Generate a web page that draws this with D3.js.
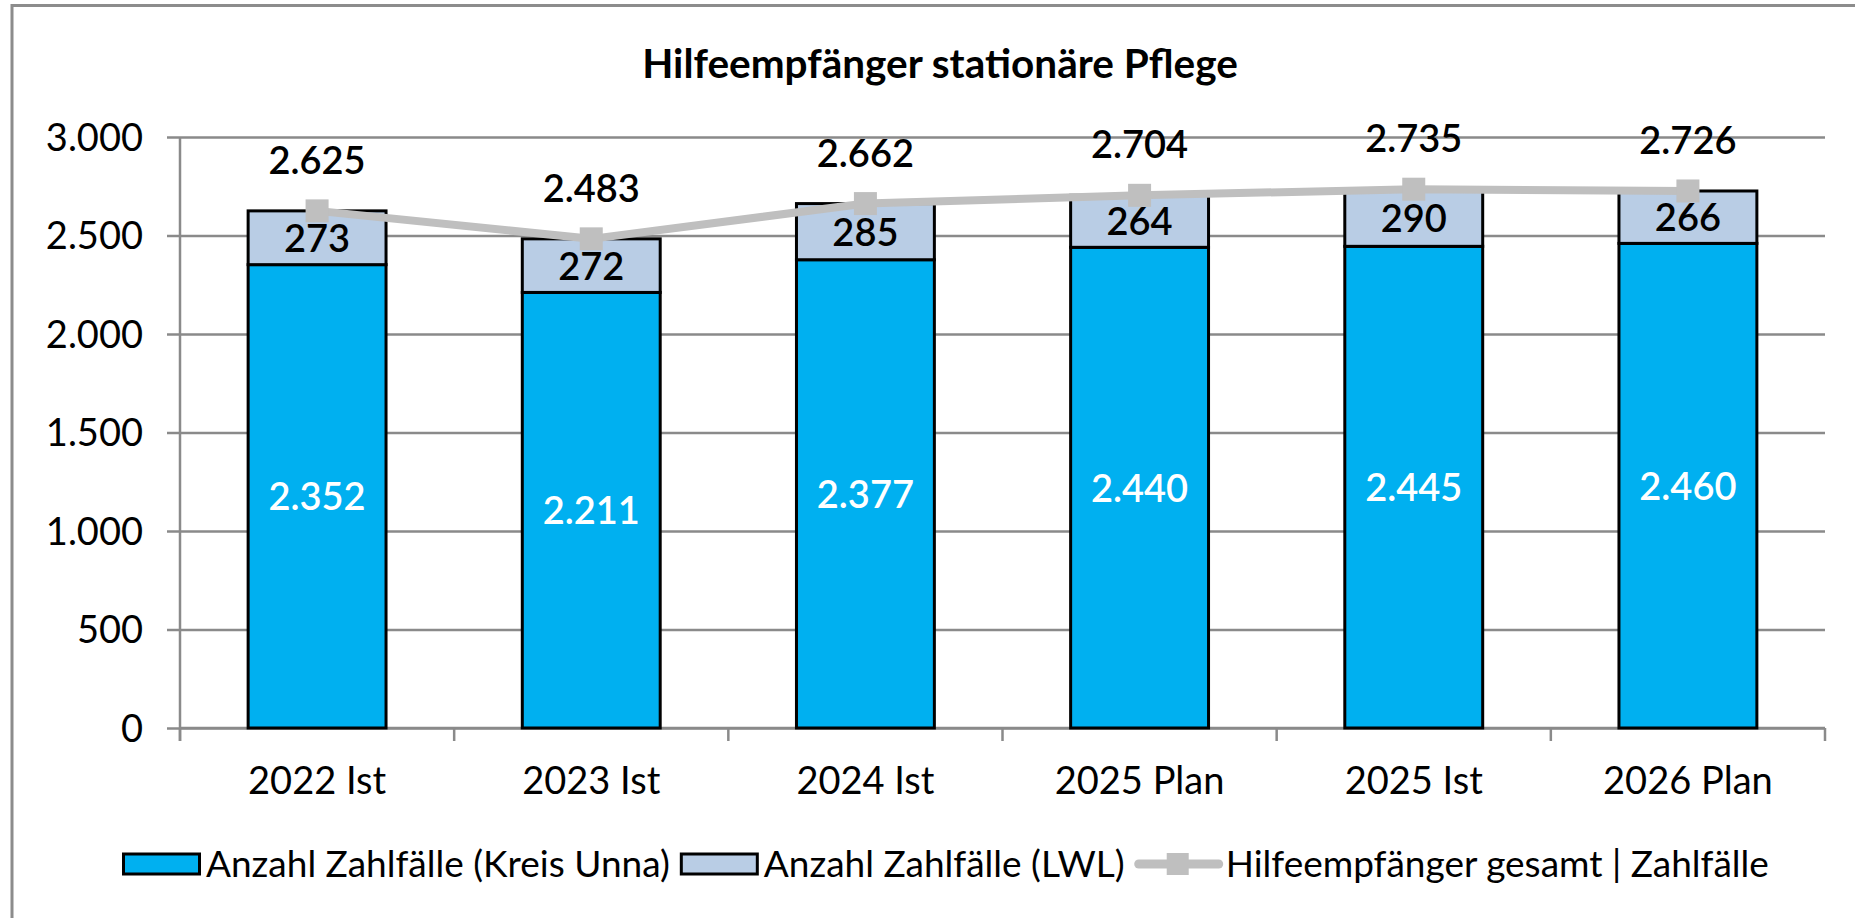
<!DOCTYPE html>
<html>
<head>
<meta charset="utf-8">
<script src="https://cdn.jsdelivr.net/npm/d3@7/dist/d3.min.js"></script>
<style>
  html, body { margin: 0; padding: 0; background: #ffffff; }
  svg { display: block; font-family: Lato, "Open Sans", sans-serif; }
</style>
</head>
<body>
<svg id="chart" width="1855" height="918"></svg>
<script>
const title = "Hilfeempfänger stationäre Pflege";
const categories = ["2022 Ist", "2023 Ist", "2024 Ist", "2025 Plan", "2025 Ist", "2026 Plan"];
const kreisUnna = [2352, 2211, 2377, 2440, 2445, 2460];
const lwl = [273, 272, 285, 264, 290, 266];
const gesamt = [2625, 2483, 2662, 2704, 2735, 2726];
const yTicks = [0, 500, 1000, 1500, 2000, 2500, 3000];
const seriesNames = ["Anzahl Zahlfälle (Kreis Unna)", "Anzahl Zahlfälle (LWL)", "Hilfeempfänger gesamt | Zahlfälle"];

const colUnna = "#00b0f0", colLwl = "#b9cde5", colLine = "#bfbfbf", colGrid = "#8a8a8a";
const fmt = v => d3.format(",")(v).replace(/,/g, ".");

const svg = d3.select("#chart");
svg.append("rect").attr("width", 1855).attr("height", 918).attr("fill", "#fff");
// outer chart frame (right/bottom edges fall outside the picture)
svg.append("rect").attr("x", 12).attr("y", 5.5).attr("width", 1900).attr("height", 1000)
  .attr("fill", "none").attr("stroke", "#8c8c8c").attr("stroke-width", 3);

const plotL = 180, plotR = 1825, plotT = 137, plotB = 728;
const xBand = d3.scaleBand().domain(categories).range([plotL, plotR]).paddingInner(0.497).paddingOuter(0.2485);
const xEdge = d3.scaleBand().domain(categories).range([plotL, plotR]).padding(0);
const y = d3.scaleLinear().domain([0, 3000]).range([plotB, plotT]);

// title
svg.append("text").attr("x", 940).attr("y", 78).attr("text-anchor", "middle")
  .attr("font-size", 40.5).attr("font-weight", 700).attr("fill", "#000").text(title);

// gridlines + y axis ticks
const yAxis = d3.axisLeft(y).tickValues(yTicks).tickSize(13).tickFormat(fmt);
const gy = svg.append("g").attr("transform", `translate(${plotL},0)`).call(yAxis);
gy.select(".domain").remove();
gy.selectAll(".tick line").attr("stroke", colGrid).attr("stroke-width", 2.5)
  .attr("x1", -13).attr("x2", plotR - plotL);
gy.selectAll(".tick text").attr("x", -37).attr("dy", null).attr("y", 13)
  .attr("font-size", 38).attr("fill", "#000").attr("font-family", "Lato");

// y axis line
svg.append("line").attr("x1", plotL).attr("x2", plotL).attr("y1", plotT).attr("y2", plotB + 13)
  .attr("stroke", colGrid).attr("stroke-width", 2.5);

// x axis
const gx = svg.append("g").attr("transform", `translate(0,${plotB})`);
gx.append("line").attr("x1", plotL).attr("x2", plotR).attr("stroke", colGrid).attr("stroke-width", 2.5);
const edges = categories.map(c => xEdge(c)).concat([xEdge(categories[categories.length - 1]) + xEdge.bandwidth()]);
gx.selectAll("line.tk").data(edges).join("line").attr("class", "tk")
  .attr("x1", d => d).attr("x2", d => d).attr("y1", 0).attr("y2", 13)
  .attr("stroke", colGrid).attr("stroke-width", 2.5);
gx.selectAll("text").data(categories).join("text")
  .attr("x", d => xEdge(d) + xEdge.bandwidth() / 2).attr("y", 66)
  .attr("text-anchor", "middle").attr("font-size", 38).attr("fill", "#000").text(d => d);

// bars
const bw = xBand.bandwidth();
svg.append("g").selectAll("rect").data(categories).join("rect")
  .attr("x", d => xBand(d)).attr("width", bw)
  .attr("y", (d, i) => y(kreisUnna[i])).attr("height", (d, i) => y(0) - y(kreisUnna[i]))
  .attr("fill", colUnna).attr("stroke", "#000").attr("stroke-width", 3);
svg.append("g").selectAll("rect").data(categories).join("rect")
  .attr("x", d => xBand(d)).attr("width", bw)
  .attr("y", (d, i) => y(kreisUnna[i] + lwl[i])).attr("height", (d, i) => y(kreisUnna[i]) - y(kreisUnna[i] + lwl[i]))
  .attr("fill", colLwl).attr("stroke", "#000").attr("stroke-width", 3);

// line
const cx = d => xBand(d) + bw / 2;
const line = d3.line().x((d, i) => cx(categories[i])).y(d => y(d));
svg.append("path").datum(gesamt).attr("d", line).attr("fill", "none")
  .attr("stroke", colLine).attr("stroke-width", 8).attr("stroke-linejoin", "round");
svg.append("g").selectAll("rect").data(gesamt).join("rect")
  .attr("x", (d, i) => cx(categories[i]) - 11.5).attr("y", d => y(d) - 11.5)
  .attr("width", 23).attr("height", 23).attr("fill", colLine);

// labels
const lblW = 600;
svg.append("g").selectAll("text").data(kreisUnna).join("text")
  .attr("x", (d, i) => cx(categories[i])).attr("y", d => (y(d) + y(0)) / 2 + 14)
  .attr("text-anchor", "middle").attr("font-size", 38).attr("font-weight", lblW).attr("fill", "#fff").text(fmt);
svg.append("g").selectAll("text").data(lwl).join("text")
  .attr("x", (d, i) => cx(categories[i])).attr("y", (d, i) => (y(kreisUnna[i]) + y(kreisUnna[i] + d)) / 2 + 14)
  .attr("text-anchor", "middle").attr("font-size", 38).attr("font-weight", lblW).attr("fill", "#000").text(fmt);
svg.append("g").selectAll("text").data(gesamt).join("text")
  .attr("x", (d, i) => cx(categories[i])).attr("y", d => y(d) - 37)
  .attr("text-anchor", "middle").attr("font-size", 38).attr("font-weight", lblW).attr("fill", "#000").text(fmt);

// legend
const lg = svg.append("g");
const legY = 864;
let lx = 122;
const legFont = 37;
seriesNames.forEach((name, i) => {
  if (i < 2) {
    lg.append("rect").attr("x", lx + 1.5).attr("y", legY - 10).attr("width", 76).attr("height", 20)
      .attr("fill", i === 0 ? colUnna : colLwl).attr("stroke", "#000").attr("stroke-width", 3);
    lx += 79 + 5;
  } else {
    lg.append("line").attr("x1", lx + 4).attr("x2", lx + 84).attr("y1", legY).attr("y2", legY)
      .attr("stroke", colLine).attr("stroke-width", 9).attr("stroke-linecap", "round");
    lg.append("rect").attr("x", lx + 32).attr("y", legY - 11).attr("width", 22).attr("height", 22).attr("fill", colLine);
    lx += 88 + 3;
  }
  const t = lg.append("text").attr("x", lx).attr("y", legY + 13).attr("font-size", legFont)
    .attr("fill", "#000").text(name);
  lx += t.node().getComputedTextLength() + 10;
});
</script>
</body>
</html>
